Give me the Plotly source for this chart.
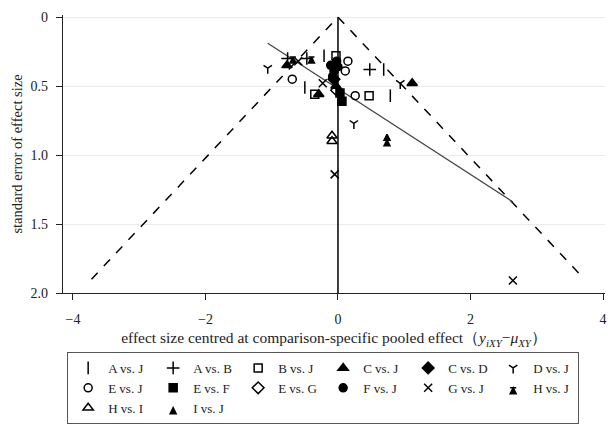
import plotly.graph_objects as go

# ---- data ----
AJ_x = [-0.21, -0.50, 0.69, 0.79]
AJ_y = [0.28, 0.51, 0.38, 0.57]
AB_x = [-0.76, -0.47, 0.48]
AB_y = [0.30, 0.30, 0.38]
BJ_x = [-0.03, -0.35, 0.47]
BJ_y = [0.28, 0.56, 0.57]
CJ_x = [-0.77, -0.29, 1.12, -0.03]
CJ_y = [0.35, 0.56, 0.48, 0.50]
CD_x = [-0.06]
CD_y = [0.45]
DJ_x = [-1.06, 0.94, 0.24]
DJ_y = [0.37, 0.48, 0.77]
EJ_x = [0.15, 0.11, -0.69, 0.26]
EJ_y = [0.32, 0.39, 0.45, 0.57]
EF_x = [0.06, 0.03]
EF_y = [0.61, 0.55]
EG_x = [-0.02]
EG_y = [0.53]
FJ_x = [-0.11, -0.06, -0.02, -0.08, 0.0]
FJ_y = [0.35, 0.39, 0.32, 0.43, 0.36]
GJ_x = [-0.60, -0.23, -0.05, 2.64]
GJ_y = [0.32, 0.48, 1.14, 1.91]
HJ_x = [-0.68, -0.40]
HJ_y = [0.29, 0.29]
HI_x = [-0.09, -0.09]
HI_y = [0.86, 0.90]
IJ_x = [0.74, 0.74]
IJ_y = [0.85, 0.89]

funnel_x = [-3.72, 0, 3.72]
funnel_y = [1.9, 0, 1.9]
ref_x = [0, 0]
ref_y = [0, 2.0]
reg_x = [-1.06, 2.64]
reg_y = [0.19, 1.34]

x_ticks = [-4, -2, 0, 2, 4]
x_ticklabels = ["\u22124", "\u22122", "0", "2", "4"]
y_ticks = [0, 0.5, 1.0, 1.5, 2.0]
y_ticklabels = ["0", "0.5", "1.0", "1.5", "2.0"]

series = [
    ("A vs. J", AJ_x, AJ_y, "line-ns-open", 9),
    ("A vs. B", AB_x, AB_y, "cross-thin-open", 9),
    ("B vs. J", BJ_x, BJ_y, "square-open", 8),
    ("C vs. J", CJ_x, CJ_y, "triangle-up", 9),
    ("C vs. D", CD_x, CD_y, "diamond", 9),
    ("D vs. J", DJ_x, DJ_y, "y-down-open", 7),
    ("E vs. J", EJ_x, EJ_y, "circle-open", 8),
    ("E vs. F", EF_x, EF_y, "square", 8),
    ("E vs. G", EG_x, EG_y, "diamond-open", 9),
    ("F vs. J", FJ_x, FJ_y, "circle", 8),
    ("G vs. J", GJ_x, GJ_y, "x-thin-open", 8),
    ("H vs. J", HJ_x, HJ_y, "arrow-bar-up", 6),
    ("H vs. I", HI_x, HI_y, "triangle-up-open", 9),
    ("I vs. J", IJ_x, IJ_y, "arrow-up", 6),
]

FONT = "Liberation Serif, Times New Roman, serif"

fig = go.Figure()

fig.add_trace(go.Scatter(x=funnel_x, y=funnel_y, mode="lines",
                         line=dict(color="black", width=1.5, dash="dash"),
                         showlegend=False, hoverinfo="skip"))
fig.add_trace(go.Scatter(x=ref_x, y=ref_y, mode="lines",
                         line=dict(color="black", width=1.5),
                         showlegend=False, hoverinfo="skip"))
fig.add_trace(go.Scatter(x=reg_x, y=reg_y, mode="lines",
                         line=dict(color="#444444", width=1.3),
                         showlegend=False, hoverinfo="skip"))

for name, xs, ys, sym, sz in series:
    fig.add_trace(go.Scatter(
        x=xs, y=ys, mode="markers", name=name,
        marker=dict(symbol=sym, size=sz, color="black",
                    line=dict(color="black", width=1.5)),
    ))

fig.update_layout(
    width=608, height=428,
    margin=dict(l=63, r=3, t=15, b=135),
    paper_bgcolor="white", plot_bgcolor="white",
    font=dict(family=FONT, size=14, color="#222"),
    legend=dict(
        orientation="h", x=0.48, xanchor="center", y=-0.212, yanchor="top",
        bordercolor="#555", borderwidth=1, font=dict(size=13, family=FONT),
        entrywidth=40, itemwidth=30, tracegroupgap=0,
    ),
)
fig.update_xaxes(
    range=[-4.15, 4.03], tickvals=x_ticks, ticktext=x_ticklabels,
    showline=True, linecolor="#222", linewidth=1.2,
    ticks="outside", ticklen=6, tickcolor="#222", ticklabelstandoff=7,
    showgrid=False, zeroline=False, automargin=False,
    title=dict(text="effect size centred at comparison-specific pooled effect\uff08<i>y</i><sub><i>iXY</i></sub>\u2212<i>\u03bc</i><sub><i>XY</i></sub>\uff09",
               font=dict(size=15.5), standoff=6),
)
fig.update_yaxes(
    range=[2.0, -0.015], tickvals=y_ticks, ticktext=y_ticklabels,
    showline=True, linecolor="#222", linewidth=1.2,
    ticks="outside", ticklen=6, tickcolor="#222", ticklabelstandoff=5,
    showgrid=True, gridcolor="#ebebeb", zeroline=False, automargin=False,
    title=dict(text="standard error of effect size", font=dict(size=14.5), standoff=4),
)

fig.write_html("out.html",
               config={"displayModeBar": False},
               post_script="document.body.style.margin='0';document.body.style.padding='0';")
